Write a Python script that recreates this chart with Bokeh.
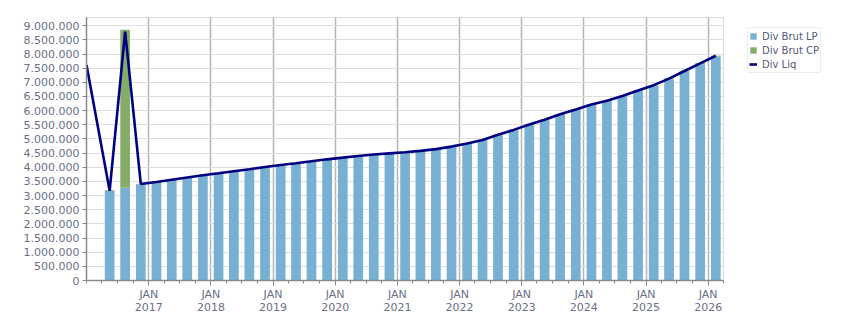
from datetime import datetime
from bokeh.plotting import figure
from bokeh.models import (FixedTicker, Range1d, Legend, LegendItem, ColumnDataSource)
from bokeh.embed import file_html
from bokeh.resources import INLINE

# ---------------- data ----------------
quarters = ["2016-Q2", "2016-Q3", "2016-Q4",
            "2017-Q1", "2017-Q2", "2017-Q3", "2017-Q4",
            "2018-Q1", "2018-Q2", "2018-Q3", "2018-Q4",
            "2019-Q1", "2019-Q2", "2019-Q3", "2019-Q4",
            "2020-Q1", "2020-Q2", "2020-Q3", "2020-Q4",
            "2021-Q1", "2021-Q2", "2021-Q3", "2021-Q4",
            "2022-Q1", "2022-Q2", "2022-Q3", "2022-Q4",
            "2023-Q1", "2023-Q2", "2023-Q3", "2023-Q4",
            "2024-Q1", "2024-Q2", "2024-Q3", "2024-Q4",
            "2025-Q1", "2025-Q2", "2025-Q3", "2025-Q4",
            "2026-Q1"]

div_brut_lp = [3160000, 3280000, 3400000,
               3470000, 3550000, 3630000, 3710000,
               3780000, 3850000, 3920000, 4000000,
               4070000, 4130000, 4200000, 4270000,
               4330000, 4390000, 4440000, 4480000,
               4520000, 4570000, 4630000, 4720000,
               4830000, 4950000, 5130000, 5300000,
               5490000, 5660000, 5850000, 6030000,
               6210000, 6340000, 6510000, 6690000,
               6890000, 7100000, 7370000, 7640000,
               7910000]

div_brut_cp = [30000, 5580000, 10000,
               0, 0, 0, 0,
               0, 0, 0, 0,
               0, 0, 0, 0,
               0, 0, 0, 0,
               0, 0, 0, 0,
               0, 10000, 30000, 30000,
               30000, 30000, 30000, 20000,
               20000, 20000, 20000, 30000,
               20000, 40000, 40000, 40000,
               30000]

# Div Liq: first point at the left edge of the chart (start of 2016)
liq_start_value = 7610000
div_liq = [3170000, 8790000, 3410000,
           3480000, 3560000, 3640000, 3720000,
           3790000, 3860000, 3930000, 4010000,
           4080000, 4140000, 4210000, 4280000,
           4340000, 4400000, 4450000, 4490000,
           4530000, 4580000, 4640000, 4730000,
           4840000, 4960000, 5150000, 5320000,
           5510000, 5680000, 5870000, 6040000,
           6220000, 6350000, 6520000, 6710000,
           6900000, 7130000, 7400000, 7670000,
           7940000]

year_labels = ["2017", "2018", "2019", "2020", "2021", "2022", "2023", "2024", "2025", "2026"]
y_ticks = [i * 500000 for i in range(19)]


def ms(d):
    return (d - datetime(1970, 1, 1)).total_seconds() * 1000.0


MID = {1: (2, 15), 2: (5, 16), 3: (8, 15), 4: (11, 15)}


def q_mid(q):
    y, qq = q.split("-Q")
    m, d = MID[int(qq)]
    return ms(datetime(int(y), m, d))


x = [q_mid(q) for q in quarters]
src = ColumnDataSource(dict(x=x, lp=div_brut_lp, cp=div_brut_cp))

liq_x = [ms(datetime(2016, 1, 1))] + x
liq_y = [liq_start_value] + div_liq

x_start = ms(datetime(2016, 1, 1))
x_end = ms(datetime(2026, 4, 1))

p = figure(frame_width=637, frame_height=263, output_backend="svg", toolbar_location=None,
           x_range=Range1d(x_start, x_end), y_range=Range1d(0, 9290000),
           min_border_left=86, min_border_right=0, min_border_top=17, min_border_bottom=33)
p.background_fill_color = "white"
p.border_fill_color = "white"
p.outline_line_color = "#dcdcdc"

bar_w = 57 * 24 * 3600 * 1000.0
r = p.vbar_stack(["lp", "cp"], x="x", width=bar_w, source=src,
                 color=["#77b0d3", "#86ad68"], line_color=None)
ln = p.line(liq_x, liq_y, line_color="#000080", line_width=2.6)

# axes
label_color = "#6b6f88"
jan_ticks = [ms(datetime(int(yl), 1, 1)) for yl in year_labels]
minor = []
for yy in range(2016, 2027):
    for mm in (1, 4, 7, 10):
        minor.append(ms(datetime(yy, mm, 1)))
p.xaxis.ticker = FixedTicker(ticks=jan_ticks, minor_ticks=minor)
p.xaxis.major_label_overrides = {t: "JAN\n" + yl for t, yl in zip(jan_ticks, year_labels)}
p.yaxis.ticker = FixedTicker(ticks=y_ticks)
p.yaxis.major_label_overrides = {t: f"{t:,}".replace(",", ".") for t in y_ticks}

for ax in (p.xaxis[0], p.yaxis[0]):
    ax.axis_line_color = "#8a8a8a"
    ax.axis_line_width = 1.5
    ax.major_tick_line_color = "#8a8a8a"
    ax.minor_tick_line_color = "#8a8a8a"
    ax.major_label_text_color = label_color
    ax.major_label_text_font = "DejaVu Sans"
    ax.major_label_text_font_size = "11px"
p.xaxis.major_tick_out = 5
p.xaxis.major_tick_in = 0
p.xaxis.minor_tick_out = 3
p.xaxis.minor_tick_in = 0
p.xaxis.major_label_standoff = 2
p.xaxis.major_label_text_line_height = 1.05
p.yaxis.major_tick_out = 4
p.yaxis.major_tick_in = 0
p.yaxis.minor_tick_line_color = None
p.yaxis.major_label_standoff = 3

p.xgrid.grid_line_color = "#b4b4b4"
p.xgrid.grid_line_width = 1.5
p.ygrid.grid_line_color = "#dedede"
p.ygrid.grid_line_width = 1

legend = Legend(items=[LegendItem(label="Div Brut LP", renderers=[r[0]]),
                       LegendItem(label="Div Brut CP", renderers=[r[1]]),
                       LegendItem(label="Div Liq", renderers=[ln])],
                location=(24, 207))
legend.border_line_color = "#dcdcdc"
legend.border_line_width = 1
legend.background_fill_color = "white"
legend.label_text_font = "DejaVu Sans"
legend.label_text_font_size = "10px"
legend.label_text_color = "#55587a"
legend.glyph_width = 8
legend.glyph_height = 8
legend.label_height = 14
legend.label_standoff = 5
legend.spacing = 0
legend.padding = 1
legend.margin = 0
p.add_layout(legend, "right")
p.min_border_right = 0

open("out.html", "w").write(file_html(p, INLINE))
